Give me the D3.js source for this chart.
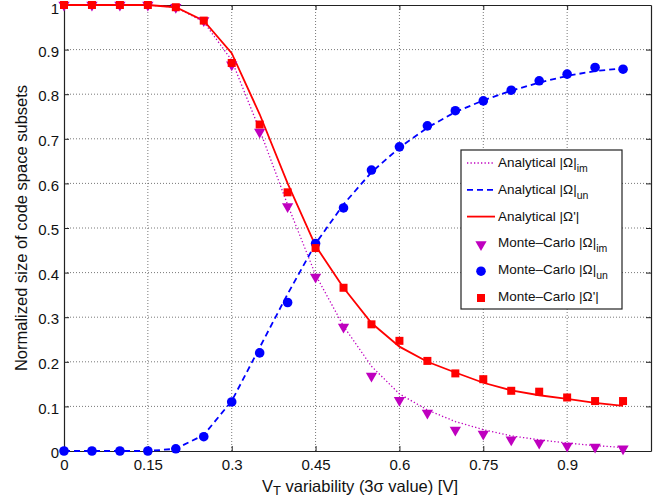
<!DOCTYPE html>
<html>
<head>
<meta charset="utf-8">
<script src="https://cdn.jsdelivr.net/npm/d3@7"></script>
<style>
  body { margin: 0; background: #fff; }
  text { font-family: "Liberation Sans", Arial, sans-serif; }
</style>
</head>
<body>
<div id="chart"></div>
<script>
// V_T variability values (3 sigma)
const vt = [0, 0.05, 0.1, 0.15, 0.2, 0.25, 0.3, 0.35, 0.4, 0.45, 0.5,
            0.55, 0.6, 0.65, 0.7, 0.75, 0.8, 0.85, 0.9, 0.95, 1.0];

// analytical curves
const anaIm = [1, 1, 1, 1, 0.995, 0.962, 0.876, 0.72, 0.552, 0.395, 0.28,
               0.19, 0.128, 0.092, 0.066, 0.048, 0.034, 0.025, 0.018, 0.012, 0.008];
const anaUn = [0, 0, 0, 0, 0.005, 0.036, 0.112, 0.232, 0.352, 0.465, 0.553,
               0.625, 0.68, 0.725, 0.76, 0.786, 0.808, 0.826, 0.841, 0.852, 0.858];
const anaPrime = [1, 1, 1, 1, 0.995, 0.965, 0.892, 0.755, 0.6, 0.46, 0.366,
                  0.287, 0.234, 0.2, 0.176, 0.153, 0.136, 0.125, 0.117, 0.108, 0.101];

// Monte-Carlo points
const mcIm = [1, 1, 1, 1, 0.995, 0.965, 0.866, 0.715, 0.548, 0.39, 0.278,
              0.168, 0.114, 0.085, 0.047, 0.038, 0.025, 0.018, 0.011, 0.009, 0.005];
const mcUn = [0, 0, 0, 0, 0.005, 0.032, 0.11, 0.22, 0.333, 0.465, 0.545,
              0.63, 0.682, 0.729, 0.763, 0.785, 0.809, 0.83, 0.845, 0.86, 0.856];
const mcPrime = [1, 1, 1, 1, 0.995, 0.965, 0.87, 0.732, 0.58, 0.455, 0.366,
                 0.284, 0.247, 0.202, 0.174, 0.161, 0.135, 0.133, 0.12, 0.112, 0.112];

const xTicks = [0, 0.15, 0.3, 0.45, 0.6, 0.75, 0.9];
const yTicks = [0, 0.1, 0.2, 0.3, 0.4, 0.5, 0.6, 0.7, 0.8, 0.9, 1];

const width = 663, height = 499;
const margin = {left: 64, right: 12, top: 5, bottom: 48};

const svg = d3.select("#chart").append("svg")
    .attr("width", width)
    .attr("height", height);

const x = d3.scaleLinear().domain([0, 1.05]).range([margin.left, width - margin.right]);
const y = d3.scaleLinear().domain([0, 1]).range([height - margin.bottom, margin.top]);

const magenta = "#bf00bf", blue = "#0000ff", red = "#ff0000";

// grid
const grid = svg.append("g").attr("stroke", "#555").attr("stroke-width", 0.8)
    .attr("stroke-dasharray", "1,2");
grid.selectAll(".gx").data(xTicks.filter(d => d > 0)).join("line")
    .attr("x1", d => x(d)).attr("x2", d => x(d))
    .attr("y1", y(0)).attr("y2", y(1));
grid.selectAll(".gy").data(yTicks.filter(d => d > 0 && d < 1)).join("line")
    .attr("x1", x(0)).attr("x2", x(1.05))
    .attr("y1", d => y(d)).attr("y2", d => y(d));

// axes (inward ticks, Matlab style)
const fmt = d => d === 0 ? "0" : d === 1 ? "1" : String(d);
const xAxis = svg.append("g").attr("transform", `translate(0,${y(0)})`)
    .call(d3.axisBottom(x).tickValues(xTicks).tickSizeInner(-5).tickSizeOuter(0).tickPadding(8).tickFormat(fmt));
const xTop = svg.append("g").attr("transform", `translate(0,${y(1)})`)
    .call(d3.axisTop(x).tickValues(xTicks).tickSizeInner(-5).tickSizeOuter(0).tickFormat(""));
const yAxis = svg.append("g").attr("transform", `translate(${x(0)},0)`)
    .call(d3.axisLeft(y).tickValues(yTicks).tickSizeInner(-5).tickSizeOuter(0).tickPadding(5).tickFormat(fmt));
const yRight = svg.append("g").attr("transform", `translate(${x(1.05)},0)`)
    .call(d3.axisRight(y).tickValues(yTicks).tickSizeInner(-5).tickSizeOuter(0).tickFormat(""));
[xAxis, xTop, yAxis, yRight].forEach(a => {
  a.selectAll("path.domain").attr("stroke", "#222").attr("stroke-width", 1.2);
  a.selectAll(".tick line").attr("stroke", "#222");
  a.selectAll("text").attr("font-size", 15).attr("fill", "#111")
    .attr("font-family", "Liberation Sans, Arial, sans-serif");
});
yAxis.selectAll("text").attr("dy", d => d === 1 ? "0.55em" : "0.45em");

// lines
const line = arr => d3.line().x((d, i) => x(vt[i])).y(d => y(d))(arr);
svg.append("path").attr("d", line(anaIm)).attr("fill", "none")
    .attr("stroke", magenta).attr("stroke-width", 1.3).attr("stroke-dasharray", "1.3,2.2");
svg.append("path").attr("d", line(anaUn)).attr("fill", "none")
    .attr("stroke", blue).attr("stroke-width", 1.8).attr("stroke-dasharray", "6,4");
svg.append("path").attr("d", line(anaPrime)).attr("fill", "none")
    .attr("stroke", red).attr("stroke-width", 1.8);

// markers
const tri = d3.symbol().type(d3.symbolTriangle).size(55);
svg.append("g").selectAll("path").data(mcIm).join("path")
    .attr("d", tri)
    .attr("transform", (d, i) => `translate(${x(vt[i])},${y(d)}) rotate(180)`)
    .attr("fill", magenta);
svg.append("g").selectAll("circle").data(mcUn).join("circle")
    .attr("cx", (d, i) => x(vt[i])).attr("cy", d => y(d)).attr("r", 4.8)
    .attr("fill", blue);
svg.append("g").selectAll("rect").data(mcPrime).join("rect")
    .attr("x", (d, i) => x(vt[i]) - 4).attr("y", d => y(d) - 4)
    .attr("width", 8).attr("height", 8)
    .attr("fill", red);

// axis titles
const xt = svg.append("text")
    .attr("x", 360).attr("y", 492)
    .attr("text-anchor", "middle").attr("font-size", 16.5).attr("fill", "#111");
xt.append("tspan").text("V");
xt.append("tspan").attr("dy", 3).attr("font-size", 13).text("T");
xt.append("tspan").attr("dy", -3).text(" variability (3σ value) [V]");

svg.append("text")
    .attr("transform", `translate(27,${(y(0) + y(1)) / 2}) rotate(-90)`)
    .attr("text-anchor", "middle").attr("font-size", 16.5).attr("fill", "#111")
    .text("Normalized size of code space subsets");

// legend
const legendItems = [
  {kind: "line", color: magenta, dash: "1.3,2.2", w: 1.3, label: "Analytical |Ω|", sub: "im"},
  {kind: "line", color: blue, dash: "6,4", w: 1.8, label: "Analytical |Ω|", sub: "un"},
  {kind: "line", color: red, dash: null, w: 1.8, label: "Analytical |Ω'|", sub: ""},
  {kind: "tri", color: magenta, label: "Monte–Carlo |Ω|", sub: "im"},
  {kind: "circle", color: blue, label: "Monte–Carlo |Ω|", sub: "un"},
  {kind: "square", color: red, label: "Monte–Carlo |Ω'|", sub: ""}
];
const lg = svg.append("g");
lg.append("rect").attr("x", 461).attr("y", 150).attr("width", 161).attr("height", 159)
    .attr("fill", "#fff").attr("stroke", "#222").attr("stroke-width", 1.2);
legendItems.forEach((it, i) => {
  const cy = 163 + i * 26.8;
  if (it.kind === "line") {
    lg.append("line").attr("x1", 467).attr("x2", 495).attr("y1", cy).attr("y2", cy)
      .attr("stroke", it.color).attr("stroke-width", it.w)
      .attr("stroke-dasharray", it.dash);
  } else if (it.kind === "tri") {
    lg.append("path").attr("d", tri).attr("transform", `translate(481,${cy + 1}) rotate(180)`)
      .attr("fill", it.color);
  } else if (it.kind === "circle") {
    lg.append("circle").attr("cx", 481).attr("cy", cy + 1).attr("r", 4.8).attr("fill", it.color);
  } else {
    lg.append("rect").attr("x", 477).attr("y", cy - 3).attr("width", 8).attr("height", 8).attr("fill", it.color);
  }
  const t = lg.append("text").attr("x", 498).attr("y", cy + 4)
    .attr("font-size", 13.5).attr("fill", "#111");
  t.append("tspan").text(it.label);
  if (it.sub) t.append("tspan").attr("dy", 5).attr("font-size", 10.5).text(it.sub);
});
</script>
</body>
</html>
